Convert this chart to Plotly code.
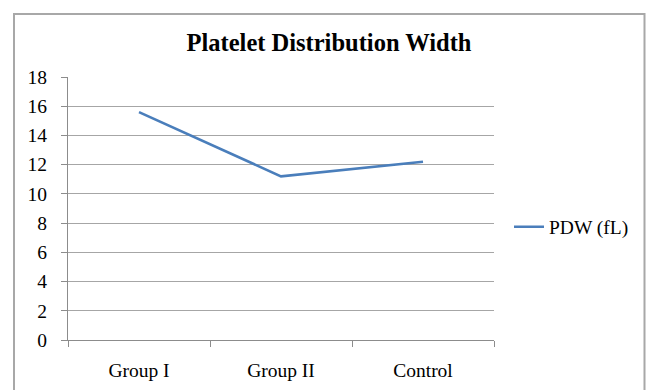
import plotly.graph_objects as go

categories = ["Group I", "Group II", "Control"]
pdw_values = [15.6, 11.2, 12.2]
series_name = "PDW (fL)"
title_text = "Platelet Distribution Width"
y_ticks = list(range(0, 19, 2))

W, H = 646, 390
L, R, T, B = 68, 646 - 494, 77, 390 - 340
pw, ph = W - L - R, H - T - B

def px_to_paper_x(px):
    return (px - L) / pw

def px_to_paper_y(py):
    return (H - B - py) / ph

font_family = "Liberation Serif, Times New Roman, serif"

fig = go.Figure()
fig.add_trace(go.Scatter(
    x=categories, y=pdw_values, mode="lines", name=series_name,
    line=dict(color="#4a7ebb", width=2.6),
))

fig.update_layout(
    width=W, height=H,
    margin=dict(l=L, r=R, t=T, b=B, autoexpand=False),
    paper_bgcolor="white", plot_bgcolor="white",
    font=dict(family=font_family, size=19.5, color="black"),
    title=dict(text="<b>" + title_text + "</b>", x=329 / W,
               xanchor="center", y=1 - 42 / H, yanchor="middle",
               font=dict(family=font_family, size=24.5, color="black")),
    showlegend=True,
    legend=dict(x=px_to_paper_x(509), y=px_to_paper_y(227), xanchor="left", yanchor="middle",
                bgcolor="rgba(0,0,0,0)", font=dict(family=font_family, size=19.5)),
    shapes=[dict(type="rect", xref="paper", yref="paper",
                 x0=px_to_paper_x(14), x1=px_to_paper_x(644.5),
                 y0=px_to_paper_y(420), y1=px_to_paper_y(14),
                 line=dict(color="#a8a8a8", width=2), fillcolor="rgba(0,0,0,0)", layer="below")],
)

fig.update_xaxes(
    type="category", range=[-0.5, 2.5], showgrid=False,
    showline=True, linecolor="#8c8c8c", linewidth=1.3,
    ticks="outside", tickson="boundaries", ticklen=6, tickcolor="#8c8c8c", tickwidth=1.3,
    ticklabelstandoff=12, zeroline=False,
)
fig.update_yaxes(
    range=[0, 18], tickvals=y_ticks, showgrid=True, gridcolor="#a6a6a6", gridwidth=1.3,
    showline=True, linecolor="#8c8c8c", linewidth=1.3,
    ticks="outside", ticklen=6, tickcolor="#8c8c8c", tickwidth=1.3,
    ticklabelstandoff=10, zeroline=False,
)

fig.write_html("out.html", config={"displayModeBar": False},
               post_script="document.body.style.margin='0';document.body.style.overflow='hidden';")
